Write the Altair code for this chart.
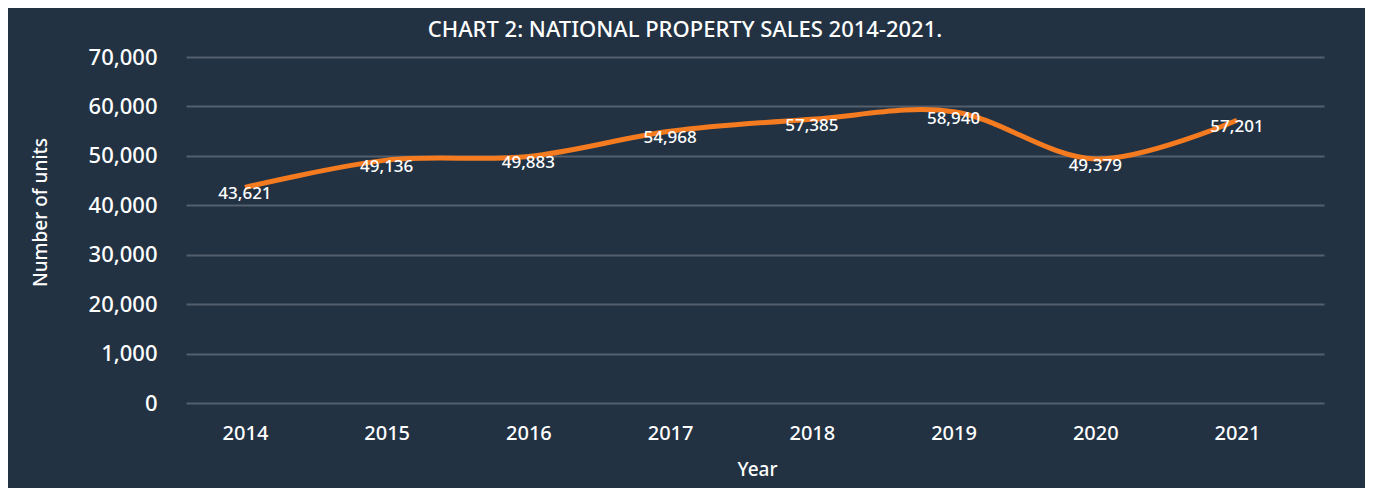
import altair as alt
import pandas as pd

years = [2014, 2015, 2016, 2017, 2018, 2019, 2020, 2021]
sales = [43621, 49136, 49883, 54968, 57385, 58940, 49379, 57201]
y_ticks = [0, 10000, 20000, 30000, 40000, 50000, 60000, 70000]
y_tick_labels = ["0", "1,000", "20,000", "30,000", "40,000", "50,000", "60,000", "70,000"]

df = pd.DataFrame({"Year": years, "Sales": sales})

FONT = "Noto Sans"
BG = "#223243"
ORANGE = "#F47B20"
GRID = "#535f6d"

label_expr = "{" + ", ".join(f"'{v}': '{l}'" for v, l in zip(y_ticks, y_tick_labels)) + "}[datum.value]"

x_enc = alt.X(
    "Year:Q",
    scale=alt.Scale(domain=[2013.584, 2021.614], nice=False, zero=False),
    axis=alt.Axis(
        title="Year", values=years, format="d", labelAngle=0, grid=False, domain=False, ticks=False,
        labelPadding=20, labelFontSize=20, labelFontWeight=500, labelColor="white", labelFont=FONT,
        titleFontSize=19, titleColor="white", titleFont=FONT, titleFontWeight=500,
        titleX=571, titleY=66, titleBaseline="middle", titleAlign="center",
    ),
)
y_enc = alt.Y(
    "Sales:Q",
    scale=alt.Scale(domain=[0, 70000], nice=False),
    axis=alt.Axis(
        title="Number of units", values=y_ticks, labelExpr=label_expr,
        grid=True, gridColor=GRID, gridWidth=2, domain=False, ticks=False,
        labelPadding=29, labelFontSize=22, labelFontWeight=500, labelColor="white", labelFont=FONT,
        titleFontSize=19, titleColor="white", titleFont=FONT, titleFontWeight=500,
        titleX=-146, titleY=155, titleAngle=-90, titleBaseline="middle", titleAlign="center",
    ),
)

line = alt.Chart(df).mark_line(color=ORANGE, strokeWidth=5, interpolate="cardinal").encode(x=x_enc, y=y_enc)
text = alt.Chart(df).mark_text(color="white", font=FONT, fontSize=17, fontWeight=500, dy=7, baseline="middle").encode(
    x="Year:Q", y="Sales:Q", text=alt.Text("Sales:Q", format=",")
)

chart = (
    alt.layer(line, text)
    .properties(
        width=1138, height=346,
        autosize=alt.AutoSizeParams(type="none"),
        padding={"left": 178, "top": 49, "right": 41, "bottom": 85},
        background=BG,
        title=alt.TitleParams(
            "CHART 2: NATIONAL PROPERTY SALES 2014-2021.",
            color="white", font=FONT, fontSize=22, fontWeight=500,
            anchor="middle", dx=-70, offset=4,
        ),
    )
    .configure_view(stroke=None)
)

chart.save("out.html", embed_options={"renderer": "svg", "actions": False})
